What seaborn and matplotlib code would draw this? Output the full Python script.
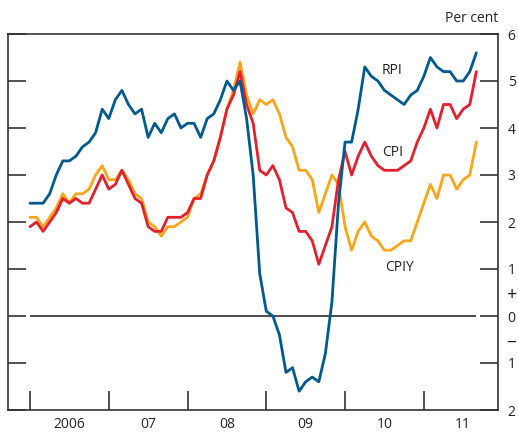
import numpy as np
import pandas as pd
import matplotlib
matplotlib.use("Agg")
import matplotlib.pyplot as plt
from matplotlib.ticker import FixedLocator, FuncFormatter
import seaborn as sns

# Twelve-month inflation rates, monthly from January 2006 to September 2011
months = pd.date_range("2006-01-01", "2011-09-01", freq="MS")

rpi = [2.4, 2.4, 2.4, 2.6, 3.0, 3.3, 3.3, 3.4, 3.6, 3.7, 3.9, 4.4,
       4.2, 4.6, 4.8, 4.5, 4.3, 4.4, 3.8, 4.1, 3.9, 4.2, 4.3, 4.0,
       4.1, 4.1, 3.8, 4.2, 4.3, 4.6, 5.0, 4.8, 5.0, 4.2, 3.0, 0.9,
       0.1, 0.0, -0.4, -1.2, -1.1, -1.6, -1.4, -1.3, -1.4, -0.8, 0.3, 2.4,
       3.7, 3.7, 4.4, 5.3, 5.1, 5.0, 4.8, 4.7, 4.6, 4.5, 4.7, 4.8,
       5.1, 5.5, 5.3, 5.2, 5.2, 5.0, 5.0, 5.2, 5.6]

cpi = [1.9, 2.0, 1.8, 2.0, 2.2, 2.5, 2.4, 2.5, 2.4, 2.4, 2.7, 3.0,
       2.7, 2.8, 3.1, 2.8, 2.5, 2.4, 1.9, 1.8, 1.8, 2.1, 2.1, 2.1,
       2.2, 2.5, 2.5, 3.0, 3.3, 3.8, 4.4, 4.7, 5.2, 4.5, 4.1, 3.1,
       3.0, 3.2, 2.9, 2.3, 2.2, 1.8, 1.8, 1.6, 1.1, 1.5, 1.9, 2.9,
       3.5, 3.0, 3.4, 3.7, 3.4, 3.2, 3.1, 3.1, 3.1, 3.2, 3.3, 3.7,
       4.0, 4.4, 4.0, 4.5, 4.5, 4.2, 4.4, 4.5, 5.2]

cpiy = [2.1, 2.1, 1.9, 2.1, 2.3, 2.6, 2.4, 2.6, 2.6, 2.7, 3.0, 3.2,
        2.9, 2.9, 3.1, 2.9, 2.6, 2.5, 2.0, 1.9, 1.7, 1.9, 1.9, 2.0,
        2.1, 2.5, 2.6, 3.0, 3.3, 3.8, 4.4, 4.8, 5.4, 4.7, 4.3, 4.6,
        4.5, 4.6, 4.3, 3.8, 3.6, 3.1, 3.1, 2.9, 2.2, 2.6, 3.0, 2.8,
        1.9, 1.4, 1.8, 2.0, 1.7, 1.6, 1.4, 1.4, 1.5, 1.6, 1.6, 2.0,
        2.4, 2.8, 2.5, 3.0, 3.0, 2.7, 2.9, 3.0, 3.7]

series_names = ["RPI", "CPI", "CPIY"]
series_colors = ["#005A8D", "#E5202E", "#FAA61A"]
year_labels = ["2006", "07", "08", "09", "10", "11"]
y_ticks = [-2, -1, 0, 1, 2, 3, 4, 5, 6]

# months since January 2006 as the x position
t = np.arange(len(months))
df = pd.DataFrame({
    "t": np.tile(t, 3),
    "value": rpi + cpi + cpiy,
    "series": np.repeat(series_names, len(months)),
})

sns.set_style("white")
plt.rcParams["font.family"] = ["Open Sans", "DejaVu Sans"]
plt.rcParams["font.size"] = 10

fig = plt.figure(figsize=(5.18, 4.32), dpi=100)
ax = fig.add_axes([8 / 518, 22 / 432, 490 / 518, 376 / 432])

# zero reference line across the data range
ax.hlines(0, t.min(), t.max(), color="#1a1a1a", lw=1.1, zorder=1)

sns.lineplot(data=df, x="t", y="value", hue="series",
             palette=dict(zip(series_names, series_colors)),
             hue_order=series_names[::-1], lw=2.0, legend=False, ax=ax,
             zorder=3)

ax.set_xlim(-3.35, 71.3)
ax.set_ylim(-2, 6)
ax.set_xlabel("")
ax.set_ylabel("")

for s in ax.spines.values():
    s.set_color("#333333")
    s.set_linewidth(1.2)

# year boundaries as ticks, year names centred between them
ax.xaxis.set_major_locator(FixedLocator(np.arange(0, 61, 12)))
ax.xaxis.set_minor_locator(FixedLocator(np.arange(6, 67, 12)))
ax.xaxis.set_major_formatter(FuncFormatter(lambda v, p: ""))
ax.xaxis.set_minor_formatter(FuncFormatter(lambda v, p: year_labels[int(v // 12)]))
ax.tick_params(axis="x", which="major", direction="in", length=14, width=1.2,
               color="#333333", bottom=True)
ax.tick_params(axis="x", which="minor", length=0, pad=5, labelsize=10,
               labelcolor="#222222", bottom=True)

ax.yaxis.set_major_locator(FixedLocator(y_ticks))
ax.yaxis.set_major_formatter(FuncFormatter(lambda v, p: f"{abs(int(v))}"))
ax.tick_params(axis="y", direction="in", length=13, width=1.2, color="#333333",
               left=True, right=True, labelleft=False, labelright=True,
               pad=7, labelsize=10, labelcolor="#222222")

# sign markers on the value axis
ax.text(1.0 + 13 / 490, 0.45, "+", transform=ax.get_yaxis_transform(),
        ha="center", va="center", fontsize=13, color="#222222")
ax.text(1.0 + 13 / 490, -0.55, "\u2013", transform=ax.get_yaxis_transform(),
        ha="center", va="center", fontsize=14, color="#222222")

ax.text(1.0, 1.0 + 15 / 376, "Per cent", transform=ax.transAxes,
        ha="right", va="center", fontsize=10, color="#222222")

# series labels beside the lines
label_pos = {"RPI": (55.2, 5.23), "CPI": (55.2, 3.47), "CPIY": (56.3, 1.03)}
for name in series_names:
    x, y = label_pos[name]
    ax.text(x, y, name, ha="center", va="center", fontsize=10, color="#222222")

fig.savefig("out.png", dpi=100)
